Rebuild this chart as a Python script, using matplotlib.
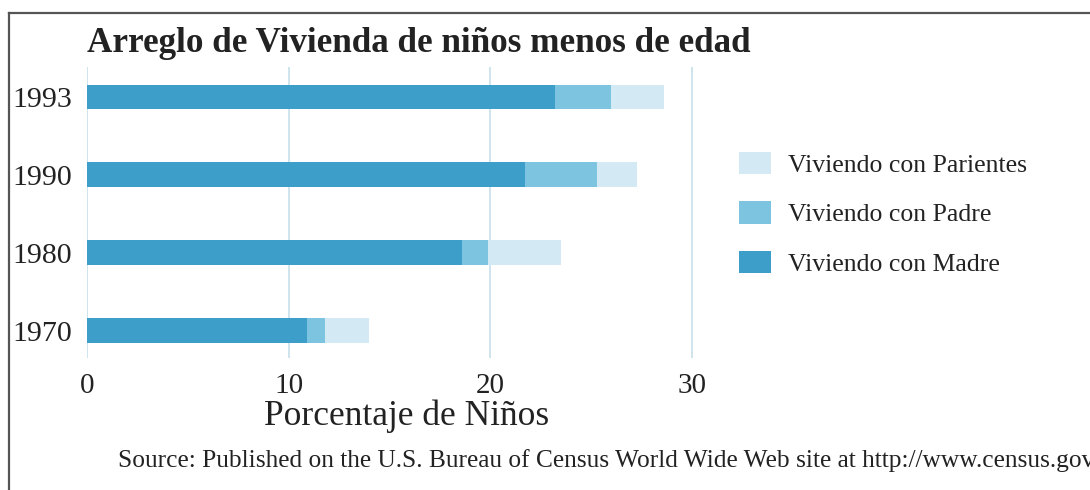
import matplotlib
matplotlib.use("Agg")
import matplotlib.pyplot as plt
from matplotlib.lines import Line2D
import numpy as np

years = ["1970", "1980", "1990", "1993"]
madre = [10.9, 18.6, 21.7, 23.2]
padre = [0.9, 1.3, 3.6, 2.8]
parientes = [2.2, 3.6, 2.0, 2.6]
series_names = ["Viviendo con Madre", "Viviendo con Padre", "Viviendo con Parientes"]
x_ticks = [0, 10, 20, 30]

title = "Arreglo de Vivienda de niños menos de edad"
xlabel = "Porcentaje de Niños"
source = "Source: Published on the U.S. Bureau of Census World Wide Web site at http://www.census.gov"

c_madre = "#3d9ec9"
c_padre = "#7cc4df"
c_par = "#d3e9f3"
grid_c = "#c6dfe9"
txt_c = "#222222"
serif = ["Liberation Serif", "DejaVu Serif"]

W, H = 1090, 490
fig = plt.figure(figsize=(W / 100, H / 100), dpi=100)
fig.patch.set_facecolor("white")

ax = fig.add_axes([87 / W, (H - 358) / H, 625 / W, (358 - 67) / H])
y = np.arange(len(years))
bh = 0.32
b1 = ax.barh(y, madre, height=bh, color=c_madre, zorder=3, label=series_names[0])
left2 = np.array(madre)
b2 = ax.barh(y, padre, left=left2, height=bh, color=c_padre, zorder=3, label=series_names[1])
left3 = left2 + np.array(padre)
b3 = ax.barh(y, parientes, left=left3, height=bh, color=c_par, zorder=3, label=series_names[2])

ax.set_xlim(0, 31)
ax.set_ylim(-0.35, 3.385)
for s in ax.spines.values():
    s.set_visible(False)
for t in x_ticks:
    ax.axvline(t, color=grid_c, lw=1.2, zorder=1)
ax.set_xticks(x_ticks)
ax.set_xticklabels([str(t) for t in x_ticks], fontfamily=serif, fontsize=21, color=txt_c)
ax.set_yticks(y)
ax.set_yticklabels(years, fontfamily=serif, fontsize=21.5, color=txt_c)
ax.tick_params(axis="both", length=0)
ax.tick_params(axis="x", pad=11)
ax.tick_params(axis="y", pad=11)

fig.text(87 / W, (H - 52) / H, title, fontfamily=serif, fontsize=25.3, fontweight="bold",
         color=txt_c, va="baseline", ha="left")
fig.text(407 / W, (H - 425) / H, xlabel, fontfamily=serif, fontsize=25.5, color=txt_c,
         va="baseline", ha="center")
fig.text(118 / W, (H - 467) / H, source, fontfamily=serif, fontsize=18.3, color=txt_c,
         va="baseline", ha="left")

leg = fig.legend(handles=[b3, b2, b1], labels=[series_names[2], series_names[1], series_names[0]],
                 loc="upper left", bbox_to_anchor=(734 / W, (H - 147) / H),
                 frameon=False, prop={"family": serif, "size": 18.5},
                 handlelength=1.25, handleheight=0.95, labelspacing=0.95, handletextpad=0.65,
                 borderaxespad=0, borderpad=0.2)
for t in leg.get_texts():
    t.set_color(txt_c)

fig.add_artist(Line2D([9 / W, 1.0], [(H - 13) / H] * 2, transform=fig.transFigure,
                      color="#555555", lw=1.6))
fig.add_artist(Line2D([9 / W] * 2, [0.0, (H - 13) / H], transform=fig.transFigure,
                      color="#555555", lw=1.6))

fig.savefig("out.png", dpi=100)
